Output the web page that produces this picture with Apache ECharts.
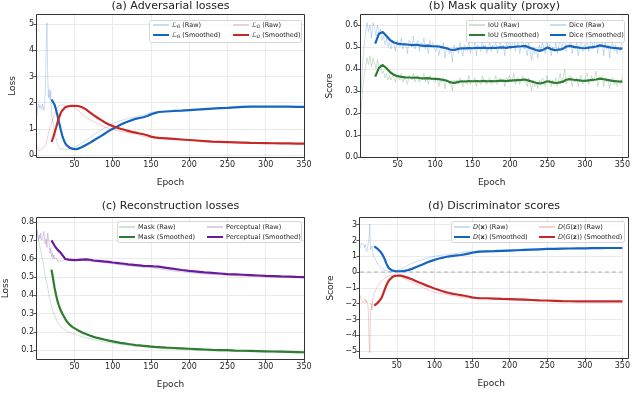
<!DOCTYPE html>
<html>
<head>
<meta charset="utf-8">
<script src="https://cdn.jsdelivr.net/npm/echarts@6/dist/echarts.min.js"></script>
<style>
  html, body { margin: 0; padding: 0; background: #fff; }
  #chart { width: 633px; height: 394px; }
</style>
</head>
<body>
<div id="chart"></div>
<script>
// ---------- epochs ----------
// raw curves of (a), (c), (d): every epoch early on, coarser once training settles
const rawEpochs = [
  1,2,3,4,5,6,7,8,9,10,11,12,13,14,15,16,17,18,19,20,
  21,22,23,24,25,26,27,28,29,30,31,32,33,34,35,36,37,38,39,40,
  42,44,46,48,50,52,54,56,58,60,62,64,66,68,
  70,80,90,100,110,120,130,140,150,160,170,180,190,200,210,220,230,240,250,
  260,270,280,290,300,310,320,330,340,350
];
// smoothed curves of (a), (c), (d)
const smoothEpochs = [
  20,22,24,26,28,30,32,34,36,38,40,42,44,46,48,50,52,55,
  60,65,70,75,80,85,90,95,100,105,110,115,120,125,130,135,140,145,150,155,160,
  170,180,190,200,210,220,230,240,250,260,270,280,290,300,310,320,330,340,350
];
function range(start, stop, step) {
  const out = [];
  for (let e = start; e <= stop; e += step) out.push(e);
  return out;
}
const maskRawEpochs = range(1, 349, 2);
const maskSmoothEpochs = range(20, 350, 5);

// ---------- (a) adversarial losses ----------
const lossGRaw = [
  1.50,1.85,1.95,1.80,1.90,1.85,1.75,1.95,1.80,1.70,1.90,2.60,4.20,5.06,3.00,2.20,2.50,2.10,2.45,1.55,
  1.40,1.20,1.00,0.85,0.70,0.60,0.48,0.40,0.32,0.25,0.30,0.18,0.24,0.16,0.26,0.19,0.23,0.17,0.22,0.20,
  0.22,0.26,0.24,0.28,0.30,0.33,0.36,0.38,0.42,0.46,0.50,0.54,0.57,0.61,
  0.66,0.86,1.04,1.20,1.30,1.40,1.45,1.52,1.63,1.66,1.67,1.69,1.70,1.72,1.74,1.76,1.78,1.79,1.81,
  1.83,1.84,1.85,1.85,1.85,1.85,1.85,1.84,1.84,1.84
];
const lossDRaw = [
  0.33,0.25,0.18,0.15,0.14,0.18,0.22,0.26,0.28,0.30,0.33,0.36,0.42,0.55,0.70,0.85,0.95,1.05,1.12,1.20,
  1.30,1.40,1.50,1.58,1.66,1.74,1.80,1.84,1.87,1.88,1.89,1.90,1.90,1.91,1.90,1.91,1.90,1.90,1.89,1.89,
  1.89,1.88,1.86,1.84,1.80,1.76,1.72,1.67,1.62,1.57,1.52,1.47,1.42,1.38,
  1.35,1.20,1.06,0.97,0.90,0.85,0.80,0.70,0.66,0.63,0.61,0.59,0.57,0.55,0.53,0.51,0.50,0.49,0.48,
  0.47,0.46,0.455,0.45,0.445,0.44,0.44,0.435,0.43,0.43
];
const lossGSmooth = [
  2.12,2.05,1.92,1.72,1.48,1.22,0.97,0.74,0.57,0.44,0.36,0.31,0.27,0.24,0.23,0.22,0.22,0.24,
  0.30,0.38,0.46,0.55,0.64,0.73,0.82,0.92,1.00,1.07,1.15,1.22,1.28,1.33,1.38,1.41,1.44,1.49,1.55,1.60,1.64,
  1.66,1.68,1.69,1.71,1.73,1.75,1.77,1.79,1.80,1.82,1.84,1.85,1.85,1.85,1.85,1.85,1.85,1.84,1.84
];
const lossDSmooth = [
  0.50,0.65,0.85,1.05,1.26,1.45,1.60,1.70,1.77,1.82,1.85,1.86,1.87,1.875,1.88,1.88,1.88,1.87,
  1.82,1.74,1.63,1.52,1.42,1.33,1.24,1.16,1.10,1.05,1.00,0.96,0.92,0.88,0.85,0.82,0.79,0.75,0.70,0.67,0.65,
  0.63,0.61,0.59,0.57,0.55,0.53,0.51,0.50,0.49,0.48,0.47,0.46,0.455,0.45,0.445,0.44,0.44,0.435,0.43
];

// ---------- (b) mask quality ----------
const iouRaw = [
  0.20,0.30,0.36,0.41,0.45,0.42,0.46,0.41,0.45,0.43,
  0.40,0.44,0.41,0.42,0.38,0.39,0.36,0.38,0.35,0.37,
  0.35,0.37,0.36,0.34,0.37,0.36,0.35,0.38,0.34,0.36,
  0.36,0.33,0.37,0.36,0.35,0.38,0.34,0.36,0.37,0.34,
  0.36,0.35,0.38,0.34,0.36,0.33,0.37,0.35,0.36,0.34,
  0.34,0.36,0.32,0.35,0.34,0.36,0.31,0.34,0.35,0.33,
  0.34,0.30,0.35,0.33,0.35,0.33,0.36,0.34,0.32,0.35,
  0.35,0.33,0.37,0.33,0.35,0.34,0.36,0.32,0.35,0.35,
  0.33,0.37,0.34,0.35,0.33,0.35,0.36,0.33,0.35,0.34,
  0.37,0.33,0.35,0.36,0.34,0.35,0.32,0.36,0.35,0.37,
  0.34,0.35,0.38,0.33,0.35,0.36,0.33,0.35,0.37,0.34,
  0.35,0.32,0.36,0.33,0.30,0.35,0.32,0.34,0.31,0.35,
  0.33,0.36,0.35,0.32,0.37,0.34,0.35,0.32,0.35,0.33,
  0.36,0.32,0.35,0.38,0.34,0.36,0.40,0.33,0.35,0.35,
  0.37,0.32,0.35,0.34,0.36,0.32,0.35,0.37,0.33,0.35,
  0.35,0.38,0.33,0.35,0.37,0.34,0.36,0.39,0.32,0.35,
  0.35,0.37,0.32,0.36,0.34,0.35,0.31,0.35,0.36,0.33,
  0.35,0.32,0.35,0.33,0.36
];
const diceRaw = [
  0.29,0.41,0.50,0.56,0.61,0.57,0.60,0.54,0.61,0.59,
  0.55,0.60,0.56,0.58,0.53,0.55,0.51,0.54,0.50,0.52,
  0.49,0.53,0.51,0.48,0.53,0.52,0.50,0.54,0.49,0.52,
  0.51,0.47,0.53,0.52,0.50,0.55,0.49,0.51,0.53,0.48,
  0.52,0.50,0.54,0.49,0.51,0.47,0.53,0.50,0.52,0.49,
  0.48,0.51,0.46,0.50,0.49,0.52,0.45,0.49,0.50,0.47,
  0.49,0.43,0.51,0.48,0.50,0.47,0.52,0.49,0.46,0.51,
  0.50,0.48,0.53,0.47,0.50,0.49,0.52,0.46,0.51,0.50,
  0.48,0.53,0.49,0.51,0.47,0.50,0.52,0.48,0.51,0.49,
  0.53,0.47,0.50,0.52,0.49,0.51,0.46,0.52,0.50,0.53,
  0.49,0.51,0.54,0.48,0.50,0.52,0.47,0.51,0.53,0.49,
  0.50,0.46,0.52,0.48,0.44,0.50,0.47,0.49,0.45,0.51,
  0.48,0.52,0.50,0.47,0.53,0.49,0.51,0.46,0.50,0.48,
  0.52,0.47,0.50,0.54,0.49,0.52,0.55,0.48,0.51,0.50,
  0.53,0.47,0.51,0.49,0.52,0.46,0.50,0.53,0.48,0.51,
  0.50,0.54,0.48,0.51,0.53,0.49,0.52,0.55,0.47,0.51,
  0.50,0.53,0.46,0.52,0.49,0.51,0.45,0.50,0.52,0.48,
  0.51,0.47,0.50,0.48,0.52
];
const iouSmooth = [
  0.365,0.405,0.418,0.403,0.385,0.373,0.367,0.364,0.362,0.361,
  0.360,0.361,0.358,0.357,0.358,0.356,0.355,0.354,0.351,0.347,
  0.340,0.336,0.340,0.344,0.343,0.345,0.344,0.345,0.344,0.346,
  0.344,0.345,0.344,0.346,0.347,0.345,0.347,0.348,0.349,0.350,
  0.352,0.347,0.342,0.337,0.334,0.338,0.344,0.340,0.336,0.338,
  0.341,0.351,0.354,0.351,0.349,0.347,0.346,0.348,0.350,0.352,
  0.356,0.353,0.350,0.347,0.345,0.343,0.342
];
const diceSmooth = [
  0.515,0.560,0.568,0.550,0.530,0.520,0.515,0.513,0.512,0.510,
  0.508,0.510,0.507,0.505,0.506,0.504,0.503,0.502,0.498,0.494,
  0.488,0.486,0.490,0.494,0.493,0.495,0.494,0.496,0.495,0.497,
  0.494,0.496,0.495,0.497,0.498,0.496,0.499,0.500,0.502,0.503,
  0.505,0.498,0.492,0.486,0.482,0.488,0.497,0.490,0.485,0.488,
  0.490,0.502,0.505,0.500,0.498,0.495,0.494,0.497,0.499,0.502,
  0.507,0.504,0.500,0.497,0.495,0.493,0.492
];

// ---------- (c) reconstruction losses ----------
const maskLossRaw = [
  0.76,0.73,0.70,0.68,0.66,0.64,0.62,0.60,0.58,0.55,0.52,0.50,0.48,0.46,0.44,0.42,0.395,0.375,0.355,0.34,
  0.325,0.31,0.30,0.29,0.278,0.268,0.26,0.252,0.245,0.239,0.234,0.229,0.225,0.221,0.218,0.215,0.212,0.209,0.206,0.204,
  0.200,0.197,0.194,0.191,0.188,0.185,0.182,0.179,0.176,0.173,0.171,0.169,0.167,0.165,
  0.163,0.153,0.145,0.138,0.132,0.127,0.122,0.118,0.114,0.111,0.108,0.106,0.104,0.102,0.100,0.098,0.097,0.096,0.095,
  0.094,0.093,0.092,0.091,0.090,0.089,0.088,0.087,0.087,0.086
];
const percLossRaw = [
  0.76,0.72,0.70,0.73,0.71,0.74,0.70,0.69,0.72,0.75,0.70,0.68,0.71,0.66,0.74,0.75,0.68,0.63,0.66,0.61,
  0.63,0.60,0.62,0.60,0.61,0.59,0.60,0.585,0.595,0.58,0.59,0.585,0.59,0.585,0.59,0.59,0.595,0.59,0.595,0.595,
  0.595,0.597,0.597,0.598,0.597,0.596,0.595,0.593,0.592,0.591,0.590,0.589,0.588,0.587,
  0.586,0.582,0.577,0.572,0.566,0.561,0.558,0.552,0.551,0.545,0.538,0.532,0.528,0.524,0.520,0.517,0.514,0.511,0.509,
  0.507,0.505,0.503,0.502,0.500,0.499,0.498,0.497,0.496,0.495
];
const maskLossSmooth = [
  0.54,0.49,0.44,0.40,0.365,0.34,0.318,0.30,0.285,0.27,0.257,0.247,0.238,0.231,0.225,0.22,0.215,0.208,
  0.197,0.188,0.18,0.173,0.167,0.162,0.157,0.152,0.148,0.144,0.14,0.137,0.134,0.131,0.128,0.126,0.124,0.122,0.12,0.118,0.117,
  0.114,0.112,0.11,0.108,0.106,0.104,0.102,0.101,0.10,0.098,0.097,0.096,0.095,0.094,0.093,0.092,0.091,0.09,0.089
];
const percLossSmooth = [
  0.70,0.685,0.67,0.66,0.648,0.64,0.632,0.622,0.61,0.598,0.596,0.595,0.594,0.593,0.592,0.592,0.592,0.593,
  0.595,0.596,0.594,0.59,0.588,0.586,0.584,0.582,0.579,0.577,0.574,0.572,0.569,0.567,0.565,0.563,0.561,0.56,0.559,0.557,0.556,
  0.55,0.544,0.538,0.533,0.529,0.525,0.522,0.519,0.516,0.514,0.512,0.51,0.508,0.506,0.505,0.503,0.502,0.50,0.499
];

// ---------- (d) discriminator scores ----------
const realScoreRaw = [
  1.50,1.70,1.85,1.92,1.80,1.70,1.55,1.75,1.45,1.30,1.20,1.35,2.10,3.05,1.40,1.50,1.65,1.20,1.00,0.95,
  0.85,0.75,0.65,0.57,0.50,0.42,0.36,0.31,0.27,0.22,0.19,0.16,0.13,0.11,0.09,0.08,0.07,0.06,0.05,0.04,
  0.03,0.03,0.04,0.06,0.09,0.13,0.17,0.21,0.26,0.31,0.36,0.41,0.46,0.50,
  0.55,0.73,0.88,1.00,1.07,1.12,1.18,1.28,1.31,1.33,1.35,1.37,1.39,1.41,1.43,1.45,1.46,1.47,1.48,
  1.49,1.50,1.50,1.51,1.51,1.52,1.52,1.52,1.52,1.52
];
const fakeScoreRaw = [
  -1.45,-1.60,-1.80,-1.90,-1.75,-1.95,-1.85,-1.70,-1.95,-1.80,-2.00,-2.30,-4.20,-5.10,-2.60,-2.00,-2.40,-1.70,-1.50,-1.30,
  -1.25,-1.15,-1.05,-0.95,-0.88,-0.80,-0.72,-0.66,-0.60,-0.55,-0.50,-0.46,-0.42,-0.38,-0.35,-0.32,-0.29,-0.27,-0.25,-0.23,
  -0.20,-0.18,-0.18,-0.19,-0.21,-0.24,-0.28,-0.32,-0.36,-0.41,-0.46,-0.51,-0.56,-0.61,
  -0.66,-0.88,-1.10,-1.28,-1.38,-1.46,-1.54,-1.64,-1.66,-1.68,-1.70,-1.72,-1.74,-1.76,-1.78,-1.80,-1.82,-1.83,-1.84,
  -1.85,-1.86,-1.86,-1.87,-1.87,-1.87,-1.87,-1.87,-1.87,-1.87
];
const realScoreSmooth = [
  1.63,1.55,1.48,1.40,1.30,1.17,1.00,0.80,0.55,0.35,0.22,0.14,0.10,0.07,0.06,0.05,0.05,0.05,
  0.07,0.12,0.20,0.30,0.40,0.50,0.60,0.69,0.77,0.84,0.90,0.95,0.99,1.02,1.05,1.08,1.12,1.17,1.22,1.26,1.29,
  1.31,1.32,1.34,1.36,1.38,1.40,1.42,1.44,1.46,1.47,1.48,1.49,1.50,1.50,1.51,1.51,1.52,1.52,1.52
];
const fakeScoreSmooth = [
  -2.13,-2.05,-1.97,-1.88,-1.75,-1.60,-1.35,-1.10,-0.85,-0.65,-0.50,-0.40,-0.32,-0.27,-0.24,-0.22,-0.22,-0.23,
  -0.29,-0.37,-0.46,-0.56,-0.66,-0.76,-0.86,-0.95,-1.04,-1.12,-1.20,-1.27,-1.33,-1.38,-1.42,-1.46,-1.50,-1.55,-1.60,-1.63,-1.65,
  -1.66,-1.68,-1.70,-1.71,-1.73,-1.75,-1.77,-1.79,-1.80,-1.82,-1.84,-1.85,-1.86,-1.86,-1.86,-1.86,-1.86,-1.86,-1.86
];
const zeroLine = [[1, 0], [350, 0]];

// ---------- ticks ----------
const epochTicks = [50, 100, 150, 200, 250, 300, 350];
const lossTicksA = [0, 1, 2, 3, 4, 5];
const scoreTicksB = [0, 0.1, 0.2, 0.3, 0.4, 0.5, 0.6];
const lossTicksC = [0.1, 0.2, 0.3, 0.4, 0.5, 0.6, 0.7, 0.8];
const scoreTicksD = [-5, -4, -3, -2, -1, 0, 1, 2, 3];

// ---------- styling ----------
const FONT = 'DejaVu Sans';
const INK = '#262626';
const BLUE = '#1565c0', RED = '#c62828', GREEN = '#2e7d32', PURPLE = '#6a1b9a';

const grids = [
  { left: 37,  top: 15,  width: 267, height: 142 },
  { left: 361, top: 15,  width: 267, height: 142 },
  { left: 37,  top: 218, width: 267, height: 141 },
  { left: 360, top: 218, width: 268, height: 140 }
];

function zip(xs, ys) { return xs.map((x, i) => [x, ys[i]]); }

function xAxisFor(i) {
  return {
    type: 'value', gridIndex: i, min: 1, max: 350,
    name: 'Epoch', nameLocation: 'middle', nameGap: 21,
    nameTextStyle: { fontFamily: FONT, fontSize: 9, color: INK },
    axisLine: { show: false, onZero: false },
    axisTick: { show: true, length: 3.5, lineStyle: { color: INK, width: 0.8 }, customValues: epochTicks },
    axisLabel: { fontFamily: FONT, fontSize: 8, color: INK, margin: 3.5, customValues: epochTicks },
    splitLine: { show: true, lineStyle: { color: '#e6e6e6', width: 0.8 } }
  };
}
function yAxisFor(i, min, max, ticks, name, gap, fmt) {
  return {
    type: 'value', gridIndex: i, min: min, max: max,
    name: name, nameLocation: 'middle', nameGap: gap,
    nameTextStyle: { fontFamily: FONT, fontSize: 9, color: INK },
    axisLine: { show: false, onZero: false },
    axisTick: { show: true, length: 3.5, lineStyle: { color: INK, width: 0.8 }, customValues: ticks },
    axisLabel: { fontFamily: FONT, fontSize: 8, color: INK, margin: 3, customValues: ticks, formatter: fmt },
    splitLine: { show: true, lineStyle: { color: '#e6e6e6', width: 0.8 } }
  };
}
const minusFmt = v => String(v).replace('-', '\u2212');

function raw(name, i, color, data) {
  return {
    name: name, type: 'line', xAxisIndex: i, yAxisIndex: i, data: data,
    symbol: 'none', z: 2, silent: true,
    lineStyle: { color: color, width: 1, opacity: 0.22 }, itemStyle: { color: color }
  };
}
function smooth(name, i, color, data) {
  return {
    name: name, type: 'line', xAxisIndex: i, yAxisIndex: i, data: data,
    symbol: 'none', z: 3, silent: true,
    lineStyle: { color: color, width: 2.2 }, itemStyle: { color: color }
  };
}

// legend labels with a little math typesetting
function legendLabel(name) {
  return name
    .replace(/^ℒ([GD])/, '{cal|ℒ}{sub|$1}')
    .replace('D(G(z))', '{it|D}({it|G}({bf|z}))')
    .replace('D(x)', '{it|D}({bf|x})');
}
const legendRich = {
  cal: { fontFamily: FONT, fontSize: 6.5, color: INK, fontStyle: 'italic' },
  sub: { fontFamily: FONT, fontSize: 4.5, color: INK, fontStyle: 'italic', padding: [3, 0, 0, 0] },
  it:  { fontFamily: FONT, fontSize: 6.5, color: INK, fontStyle: 'italic' },
  bf:  { fontFamily: FONT, fontSize: 6.5, color: INK, fontWeight: 'bold' }
};
function legendCol(names, left, top) {
  return {
    data: names, orient: 'vertical', left: left, top: top, padding: 0,
    itemWidth: 16, itemHeight: 8, itemGap: 2, selectedMode: false, z: 20,
    itemStyle: { opacity: 0 },
    formatter: legendLabel,
    textStyle: { fontFamily: FONT, fontSize: 6.5, color: INK, lineHeight: 8, padding: [0, 0, 0, -2], rich: legendRich }
  };
}
function legendBox(x, y, w, h) {
  return {
    type: 'rect', z: 15, silent: true,
    shape: { x: x + 0.5, y: y + 0.5, width: w, height: h, r: 2 },
    style: { fill: 'rgba(255,255,255,0.85)', stroke: '#cccccc', lineWidth: 0.8 }
  };
}
function frame(g) {
  return {
    type: 'rect', z: 12, silent: true,
    shape: { x: g.left - 0.5, y: g.top - 0.5, width: g.width + 1, height: g.height + 1 },
    style: { fill: 'none', stroke: '#333333', lineWidth: 1 }
  };
}
function title(text, g, top) {
  return {
    text: text, left: g.left + g.width / 2, top: top, textAlign: 'center', padding: 0,
    textStyle: { fontFamily: FONT, fontSize: 11, fontWeight: 'normal', color: '#222' }
  };
}

const option = {
  animation: false,
  backgroundColor: '#ffffff',
  title: [
    title('(a) Adversarial losses', grids[0], 0.5),
    title('(b) Mask quality (proxy)', grids[1], 0.5),
    title('(c) Reconstruction losses', grids[2], 201),
    title('(d) Discriminator scores', grids[3], 201)
  ],
  grid: grids.map(g => Object.assign({ containLabel: false }, g)),
  xAxis: [0, 1, 2, 3].map(xAxisFor),
  yAxis: [
    yAxisFor(0, -0.08, 5.35, lossTicksA, 'Loss', 19.5, v => String(v)),
    yAxisFor(1, 0, 0.645, scoreTicksB, 'Score', 27, v => v.toFixed(1)),
    yAxisFor(2, 0.052, 0.822, lossTicksC, 'Loss', 27, v => v.toFixed(1)),
    yAxisFor(3, -5.44, 3.42, scoreTicksD, 'Score', 24.5, minusFmt)
  ],
  legend: [
    legendCol(['ℒG (Raw)', 'ℒG (Smoothed)'], 152, 21),
    legendCol(['ℒD (Raw)', 'ℒD (Smoothed)'], 232, 21),
    legendCol(['IoU (Raw)', 'IoU (Smoothed)'], 468, 21),
    legendCol(['Dice (Raw)', 'Dice (Smoothed)'], 549, 21),
    legendCol(['Mask (Raw)', 'Mask (Smoothed)'], 118, 223),
    legendCol(['Perceptual (Raw)', 'Perceptual (Smoothed)'], 206, 223),
    legendCol(['D(x) (Raw)', 'D(x) (Smoothed)'], 453, 223),
    legendCol(['D(G(z)) (Raw)', 'D(G(z)) (Smoothed)'], 538, 223)
  ],
  graphic: [
    frame(grids[0]), frame(grids[1]), frame(grids[2]), frame(grids[3]),
    legendBox(149, 20, 152, 22),
    legendBox(466, 20, 158, 22),
    legendBox(117, 221, 184, 21),
    legendBox(451, 221, 173, 21)
  ],
  series: [
    raw('ℒG (Raw)', 0, BLUE, zip(rawEpochs, lossGRaw)),
    raw('ℒD (Raw)', 0, RED, zip(rawEpochs, lossDRaw)),
    smooth('ℒG (Smoothed)', 0, BLUE, zip(smoothEpochs, lossGSmooth)),
    smooth('ℒD (Smoothed)', 0, RED, zip(smoothEpochs, lossDSmooth)),

    raw('IoU (Raw)', 1, GREEN, zip(maskRawEpochs, iouRaw)),
    raw('Dice (Raw)', 1, BLUE, zip(maskRawEpochs, diceRaw)),
    smooth('IoU (Smoothed)', 1, GREEN, zip(maskSmoothEpochs, iouSmooth)),
    smooth('Dice (Smoothed)', 1, BLUE, zip(maskSmoothEpochs, diceSmooth)),

    raw('Mask (Raw)', 2, GREEN, zip(rawEpochs, maskLossRaw)),
    raw('Perceptual (Raw)', 2, PURPLE, zip(rawEpochs, percLossRaw)),
    smooth('Mask (Smoothed)', 2, GREEN, zip(smoothEpochs, maskLossSmooth)),
    smooth('Perceptual (Smoothed)', 2, PURPLE, zip(smoothEpochs, percLossSmooth)),

    {
      name: 'zero', type: 'line', xAxisIndex: 3, yAxisIndex: 3, data: zeroLine,
      symbol: 'none', z: 1, silent: true,
      lineStyle: { color: '#9e9e9e', width: 0.8, type: [4, 3] }
    },
    raw('D(x) (Raw)', 3, BLUE, zip(rawEpochs, realScoreRaw)),
    raw('D(G(z)) (Raw)', 3, RED, zip(rawEpochs, fakeScoreRaw)),
    smooth('D(x) (Smoothed)', 3, BLUE, zip(smoothEpochs, realScoreSmooth)),
    smooth('D(G(z)) (Smoothed)', 3, RED, zip(smoothEpochs, fakeScoreSmooth))
  ]
};

const chart = echarts.init(document.getElementById('chart'), null, { renderer: 'canvas' });
chart.setOption(option);
</script>
</body>
</html>
